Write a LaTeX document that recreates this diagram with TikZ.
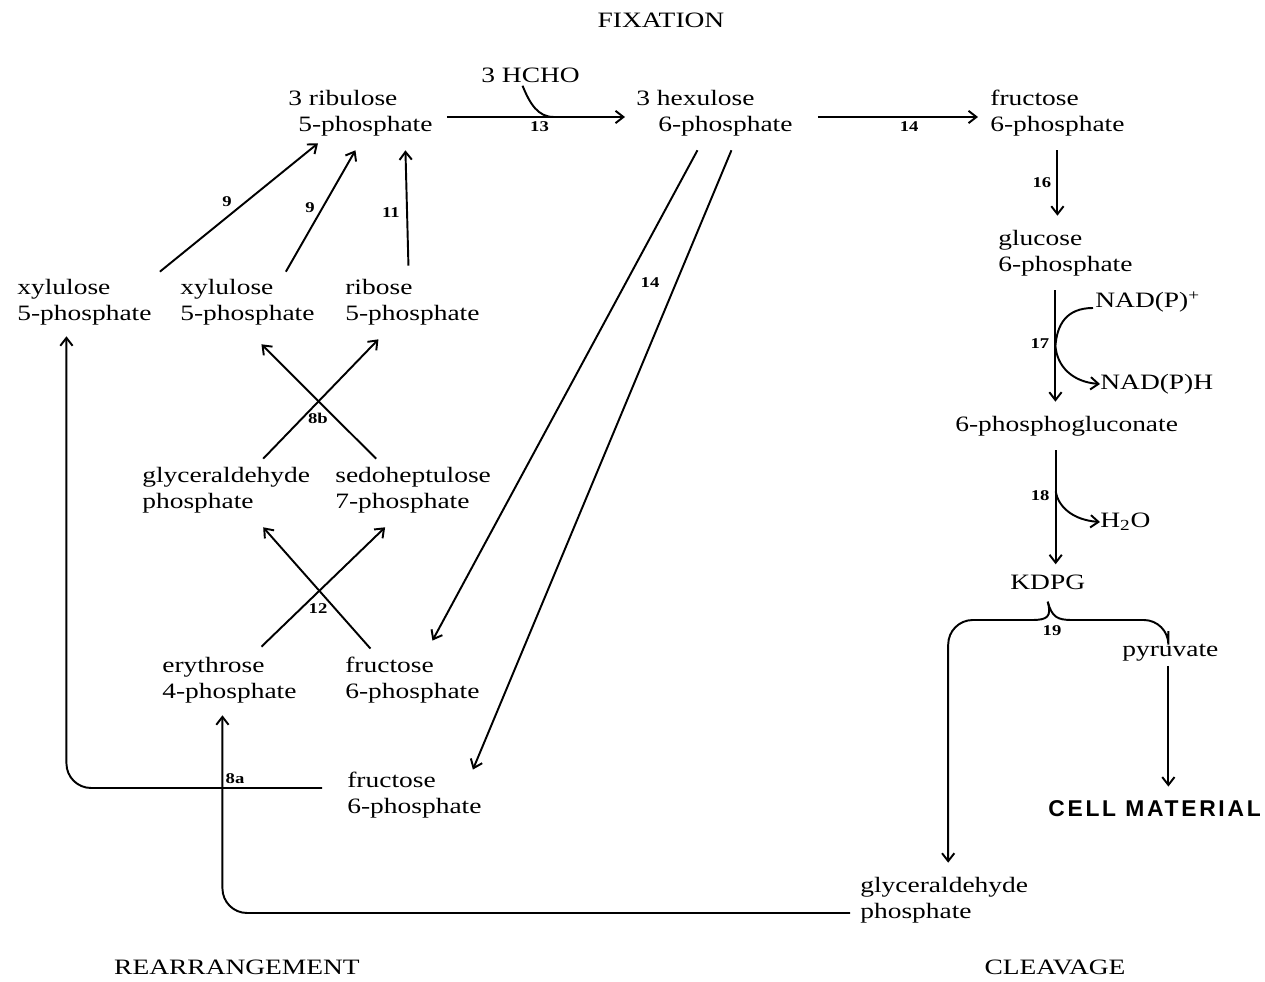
\documentclass[tikz,border=0pt]{standalone}
\usepackage{fontspec}
\setmainfont[FakeStretch=1.25]{Liberation Serif}
\setsansfont{Liberation Sans}
\usetikzlibrary{arrows.meta}
\tikzstyle{metab} = [inner sep=0pt, anchor=west, align=left,
    font=\fontsize{12.5}{14.8}\selectfont]
\tikzstyle{phase} = [inner sep=0pt, font=\fontsize{12.5}{14}\selectfont]
\tikzstyle{enz} = [inner sep=1pt, font=\fontsize{8.5}{9}\selectfont\bfseries]
\tikzstyle{rxn} = [line width=1.1pt]

\begin{document}
\begin{tikzpicture}[x=0.02cm, y=-0.02cm, >={Straight Barb[length=4.5pt,width=7pt]}]
    \useasboundingbox (0,0) rectangle (1265,982);

    % phase headings
    \node[phase] (fix) at (661,20) {FIXATION};
    \node[phase] (rearr) at (237,967) {REARRANGEMENT};
    \node[phase] (cleav) at (1055,967) {CLEAVAGE};

    % fixation
    \node[metab] (rib) at (288,113) {3 ribulose\\\hspace*{0.2cm}5-phosphate};
    \node[metab] (hcho) at (481,75) {3 HCHO};
    \node[metab] (hex) at (636,113) {3 hexulose\\\hspace*{0.44cm}6-phosphate};
    \node[metab] (fruA) at (990,113) {fructose\\6-phosphate};

    % rearrangement
    \node[metab] (xylA) at (17,302) {xylulose\\5-phosphate};
    \node[metab] (xylB) at (180,302) {xylulose\\5-phosphate};
    \node[metab] (ribo) at (345,302) {ribose\\5-phosphate};
    \node[metab] (gapM) at (142,490) {glyceraldehyde\\phosphate};
    \node[metab] (sedo) at (335,490) {sedoheptulose\\7-phosphate};
    \node[metab] (ery) at (162,680) {erythrose\\4-phosphate};
    \node[metab] (fruM) at (345,680) {fructose\\6-phosphate};
    \node[metab] (fruB) at (347,795) {fructose\\6-phosphate};

    % cleavage
    \node[metab] (glc) at (998,253) {glucose\\6-phosphate};
    \node[metab] (nadp) at (1095,302) {NAD(P)\textsuperscript{+}};
    \node[metab] (nadph) at (1100,384) {NAD(P)H};
    \node[metab] (pgl) at (955,426) {6-phosphogluconate};
    \node[metab] (water) at (1100,522) {H\textsubscript{2}O};
    \node[metab] (kdpg) at (1010,582) {KDPG};
    \node[metab] (pyr) at (1122,653) {pyruvate};
    \node[metab, font=\fontsize{13}{15}\selectfont\sffamily\bfseries\addfontfeatures{LetterSpace=12}] (cell) at (1048,809) {CELL MATERIAL};
    \node[metab] (gapB) at (860,900) {glyceraldehyde\\phosphate};

    % 13 and 14
    \draw[rxn,->] ([shift={(14,4)}]rib.east) -- coordinate[pos=0.6] (j13)
        node[enz, below=1pt, pos=0.52] {13} ([shift={(-11,4)}]hex.west);
    \draw[rxn] ([shift={(-8,3)}]hcho.south) .. controls (530,104) and (538,117) .. (j13);
    \draw[rxn,->] ([shift={(25,4)}]hex.east) -- node[enz, below=1pt, pos=0.57] {14}
        ([shift={(-12,4)}]fruA.west);

    % back to ribulose 5-phosphate
    \draw[rxn,->] ([shift={(8,-7)}]xylA.north east) -- ([shift={(30,7)}]rib.south west);
    \draw[rxn,->] ([shift={(-29,-7)}]xylB.north east) -- ([shift={(-5,14)}]rib.south);
    \draw[rxn,->] ([shift={(-4,-13)}]ribo.north) -- ([shift={(45,14)}]rib.south);
    \node[enz] (l9a) at (227,202) {9};
    \node[enz] (l9b) at (310,208) {9};
    \node[enz] (l11) at (391,213) {11};

    % 8b
    \draw[rxn,->] ([shift={(37,-8)}]gapM.north) -- ([shift={(-34,14)}]ribo.south);
    \draw[rxn,->] ([shift={(-37,-8)}]sedo.north) -- ([shift={(14,19)}]xylB.south);
    \node[enz] (l8b) at (318,418) {8b};

    % 12
    \draw[rxn,->] ([shift={(32,-10)}]ery.north) -- ([shift={(-28,14)}]sedo.south);
    \draw[rxn,->] ([shift={(-42,-8)}]fruM.north) -- ([shift={(37,14)}]gapM.south);
    \node[enz] (l12) at (318,609) {12};

    % 14 to the fructose 6-phosphates
    \draw[rxn,->] ([shift={(-17,14)}]hex.south) -- ([shift={(20,-16)}]fruM.north);
    \draw[rxn,->] ([shift={(17,14)}]hex.south) -- ([shift={(-9,-2)}]fruB.north east);
    \node[enz] (l14) at (650,283) {14};

    % 8a
    \draw[rxn,->,rounded corners=14] ([shift={(-25,-7)}]fruB.west) -| ([shift={(-18,11)}]xylA.south);
    \draw[rxn,->,rounded corners=14] ([shift={(-10,13)}]gapB.west) -| ([shift={(-7,12)}]ery.south);
    \node[enz] (l8a) at (235,779) {8a};

    % 16, 17, 18
    \coordinate (s16) at ([shift={(0,14)}]fruA.south);
    \draw[rxn,->] (s16) -- node[enz, left=2pt] {16} ([shift={(0,-14)}]s16 |- glc.north);
    \coordinate (s17) at ([shift={(-10,14)}]glc.south);
    \draw[rxn,->] (s17) -- coordinate[pos=0.5] (j17)
        node[enz, left=2pt, pos=0.48] {17} ([shift={(0,-14)}]s17 |- pgl.north);
    \draw[rxn] ([shift={(-2,6)}]nadp.west) .. controls (1066,308) and (1057,325) .. (j17);
    \draw[rxn,->] (j17) .. controls (1057,366) and (1072,382) .. (nadph.west);
    \coordinate (s18) at ([shift={(-11,14)}]pgl.south);
    \draw[rxn,->] (s18) -- coordinate[pos=0.36] (j18)
        node[enz, left=2pt, pos=0.4] {18} ([shift={(0,-10)}]s18 |- kdpg.north);
    \draw[rxn,->] (j18) .. controls (1058,506) and (1072,520) .. (water.west);

    % 19
    \coordinate (peak) at ([shift={(0,12)}]kdpg.south);
    \draw[rxn,->] (peak) .. controls (1052,617) and (1047,620) .. (1032,620)
        [rounded corners=14] -| ([shift={(4,-14)}]gapB.north);
    \draw[rxn] (peak) .. controls (1052,617) and (1057,620) .. (1072,620)
        [rounded corners=14] -| ([shift={(-2,-13)}]pyr.north);
    \node[enz] (l19) at (1052,631) {19};
    \draw[rxn,->] ([shift={(-2,4)}]pyr.south) -- ([shift={(-2,-14)}]pyr.south |- cell.north);
\end{tikzpicture}
\end{document}
